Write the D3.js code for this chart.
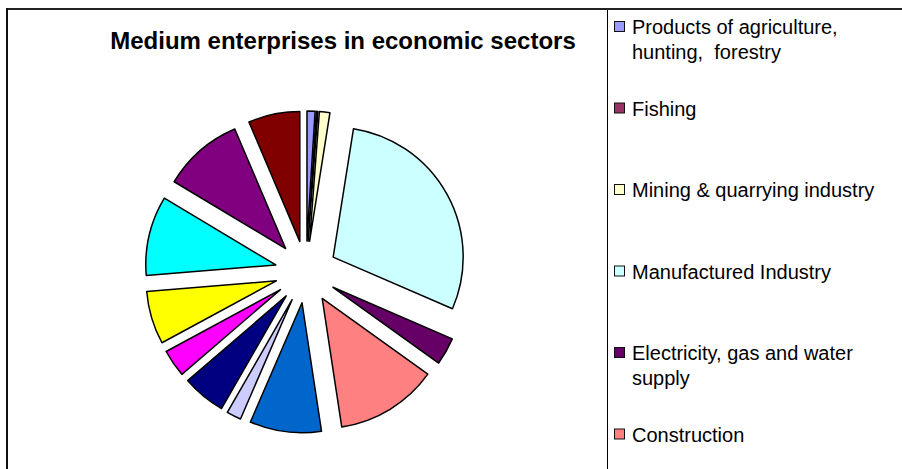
<!DOCTYPE html>
<html>
<head>
<meta charset="utf-8">
<script src="https://cdn.jsdelivr.net/npm/d3@7"></script>
<style>
  body { margin: 0; background: #fff; }
  svg { display: block; font-family: "Liberation Sans", Arial, sans-serif; }
</style>
</head>
<body>
<div id="placeholder"></div>
<script>
// sectors, clockwise from 12 o'clock
var sectors = [
  ["Products of agriculture,", "hunting,  forestry"],
  ["Fishing"],
  ["Mining & quarrying industry"],
  ["Manufactured Industry"],
  ["Electricity, gas and water", "supply"],
  ["Construction"],
  ["Wholesale and retail trade"],
  ["Hotels and restaurants"],
  ["Transport, storage and", "communication"],
  ["Financial intermediation"],
  ["Real estate, renting and", "business activities"],
  ["Education"],
  ["Health and social work"],
  ["Other community, social and", "personal services"]
];
// share of medium enterprises, %
var shares = [1.0, 0.2, 1.3, 29.0, 3.4, 12.7, 8.9, 1.8, 5.4, 3.4, 6.6, 9.9, 10.0, 6.4];
var colours = ["#9999FF", "#993366", "#FFFFCC", "#CCFFFF", "#660066", "#FF8080", "#0066CC",
               "#CCCCFF", "#000080", "#FF00FF", "#FFFF00", "#00FFFF", "#800080", "#800000"];

var width = 902, height = 469;
var cx = 306, cy = 272;
var radius = 130;
var explode = 31;

var svg = d3.select("#placeholder")
  .append("svg")
  .attr("width", width)
  .attr("height", height);

// frame
svg.append("line").attr("x1", 6).attr("y1", 9).attr("x2", width).attr("y2", 9)
  .attr("stroke", "#222").attr("stroke-width", 2);
svg.append("line").attr("x1", 7).attr("y1", 8).attr("x2", 7).attr("y2", height)
  .attr("stroke", "#111").attr("stroke-width", 2);
svg.append("line").attr("x1", 607.5).attr("y1", 10).attr("x2", 607.5).attr("y2", height)
  .attr("stroke", "#000").attr("stroke-width", 1);

svg.append("text")
  .attr("x", 343)
  .attr("y", 49)
  .attr("text-anchor", "middle")
  .style("font-size", "24px")
  .style("font-weight", "bold")
  .text("Medium enterprises in economic sectors");

var pie = d3.pie().sort(null).value(function(d) { return d; });
var data_ready = pie(shares);

var arcGenerator = d3.arc()
  .innerRadius(0)
  .outerRadius(radius);

var g = svg.append("g")
  .attr("transform", "translate(" + cx + "," + cy + ")");

g.selectAll("path")
  .data(data_ready)
  .enter()
  .append("path")
    .attr("d", arcGenerator)
    .attr("transform", function(d) {
      var mid = (d.startAngle + d.endAngle) / 2;
      return "translate(" + (Math.sin(mid) * explode) + "," + (-Math.cos(mid) * explode) + ")";
    })
    .attr("fill", function(d, i) { return colours[i]; })
    .attr("stroke", "black")
    .attr("stroke-linejoin", "round")
    .style("stroke-width", "1.5px");

// legend: the box is taller than the window, so only the first entries fit
var step = 81.5, first = 34;
var shown = sectors.filter(function(d, i) { return first + i * step < height - 10; });

var legend = svg.selectAll(".item")
  .data(shown)
  .enter()
  .append("g")
    .attr("class", "item")
    .attr("transform", function(d, i) { return "translate(614," + (first + i * step) + ")"; });

legend.append("rect")
  .attr("x", 0.5).attr("y", -12.5)
  .attr("width", 10).attr("height", 10)
  .attr("fill", function(d, i) { return colours[i]; })
  .attr("stroke", "#111")
  .attr("stroke-width", 1);

legend.append("text")
  .style("font-size", "20px")
  .style("white-space", "pre")
  .selectAll("tspan")
  .data(function(d) { return d; })
  .enter()
  .append("tspan")
    .attr("x", 18)
    .attr("dy", function(d, i) { return i == 0 ? 0 : 24.5; })
    .text(function(d) { return d; });
</script>
</body>
</html>
